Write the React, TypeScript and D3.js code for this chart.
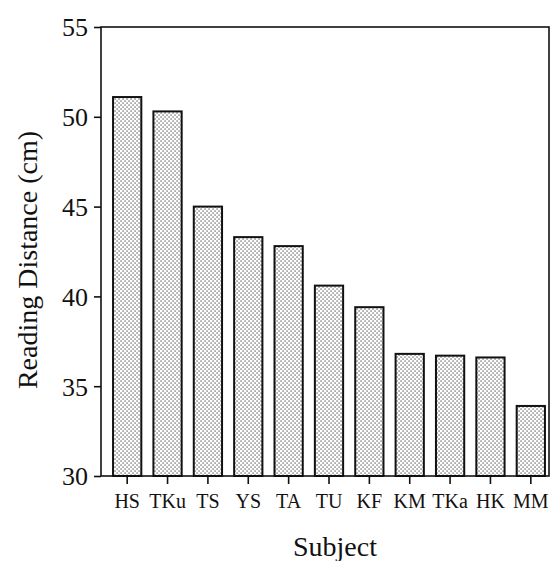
import React, { useEffect, useRef } from 'react';
import * as d3 from 'd3';

const subjects = ['HS', 'TKu', 'TS', 'YS', 'TA', 'TU', 'KF', 'KM', 'TKa', 'HK', 'MM'];
const distances = [51.1, 50.3, 45.0, 43.3, 42.8, 40.6, 39.4, 36.8, 36.7, 36.6, 33.9];
const yTicks = [30, 35, 40, 45, 50, 55];

const width = 558;
const height = 561;

const App: React.FC = () => {
    const svgRef = useRef<SVGSVGElement>(null);

    useEffect(() => {
        if (!svgRef.current) return;
        const svg = d3.select(svgRef.current);
        svg.selectAll('*').remove();

        const left = 101, right = 549, top = 27, bottom = 476;
        const font = '"Liberation Serif", "Times New Roman", serif';

        const yScale = d3.scaleLinear().domain([30, 55]).range([bottom, top]);
        const xScale = d3.scaleBand<string>()
            .domain(subjects)
            .range([107, 551])
            .paddingInner(0.3)
            .paddingOuter(0.15);

        // dot pattern for the bars
        const pat = svg.append('defs').append('pattern')
            .attr('id', 'dots')
            .attr('patternUnits', 'userSpaceOnUse')
            .attr('width', 4)
            .attr('height', 4);
        pat.append('rect').attr('width', 4).attr('height', 4).attr('fill', '#fff');
        pat.append('rect').attr('x', 0.5).attr('y', 0.5).attr('width', 1.1).attr('height', 1.1).attr('fill', '#222');
        pat.append('rect').attr('x', 2.5).attr('y', 2.5).attr('width', 1.1).attr('height', 1.1).attr('fill', '#222');

        // bars
        svg.append('g')
            .selectAll('rect')
            .data(distances)
            .join('rect')
            .attr('x', (d, i) => xScale(subjects[i]) ?? 0)
            .attr('y', d => yScale(d))
            .attr('width', xScale.bandwidth())
            .attr('height', d => bottom - yScale(d))
            .attr('fill', 'url(#dots)')
            .attr('stroke', '#111')
            .attr('stroke-width', 2);

        // frame
        svg.append('rect')
            .attr('x', left)
            .attr('y', top)
            .attr('width', right - left)
            .attr('height', bottom - top)
            .attr('fill', 'none')
            .attr('stroke', '#111')
            .attr('stroke-width', 1.6);

        // y axis
        const yAxis = svg.append('g')
            .attr('transform', `translate(${left},0)`)
            .call(d3.axisLeft(yScale).tickValues(yTicks).tickSize(7).tickPadding(6));
        yAxis.select('.domain').remove();
        yAxis.selectAll('line').attr('stroke', '#111').attr('stroke-width', 1.6);
        yAxis.selectAll('text')
            .attr('font-family', font)
            .attr('font-size', 26)
            .attr('fill', '#111')
            .attr('dy', '0.34em');

        // x axis
        const xAxis = svg.append('g')
            .attr('transform', `translate(0,${bottom})`)
            .call(d3.axisBottom(xScale).tickSize(8).tickPadding(5));
        xAxis.select('.domain').remove();
        xAxis.selectAll('line').attr('stroke', '#111').attr('stroke-width', 1.6);
        xAxis.selectAll('text')
            .attr('font-family', font)
            .attr('font-size', 20)
            .attr('fill', '#111')
            .attr('dy', '0.95em');

        // axis titles
        svg.append('text')
            .attr('transform', 'translate(37,260) rotate(-90)')
            .attr('text-anchor', 'middle')
            .attr('font-family', font)
            .attr('font-size', 28)
            .attr('fill', '#111')
            .text('Reading Distance (cm)');

        svg.append('text')
            .attr('x', 335)
            .attr('y', 556)
            .attr('text-anchor', 'middle')
            .attr('font-family', font)
            .attr('font-size', 28)
            .attr('fill', '#111')
            .text('Subject');
    }, []);

    return (
        <svg ref={svgRef} width={width} height={height}
            style={{ position: 'absolute', left: 0, top: 0, background: '#fff' }}></svg>
    );
};

export default App;
